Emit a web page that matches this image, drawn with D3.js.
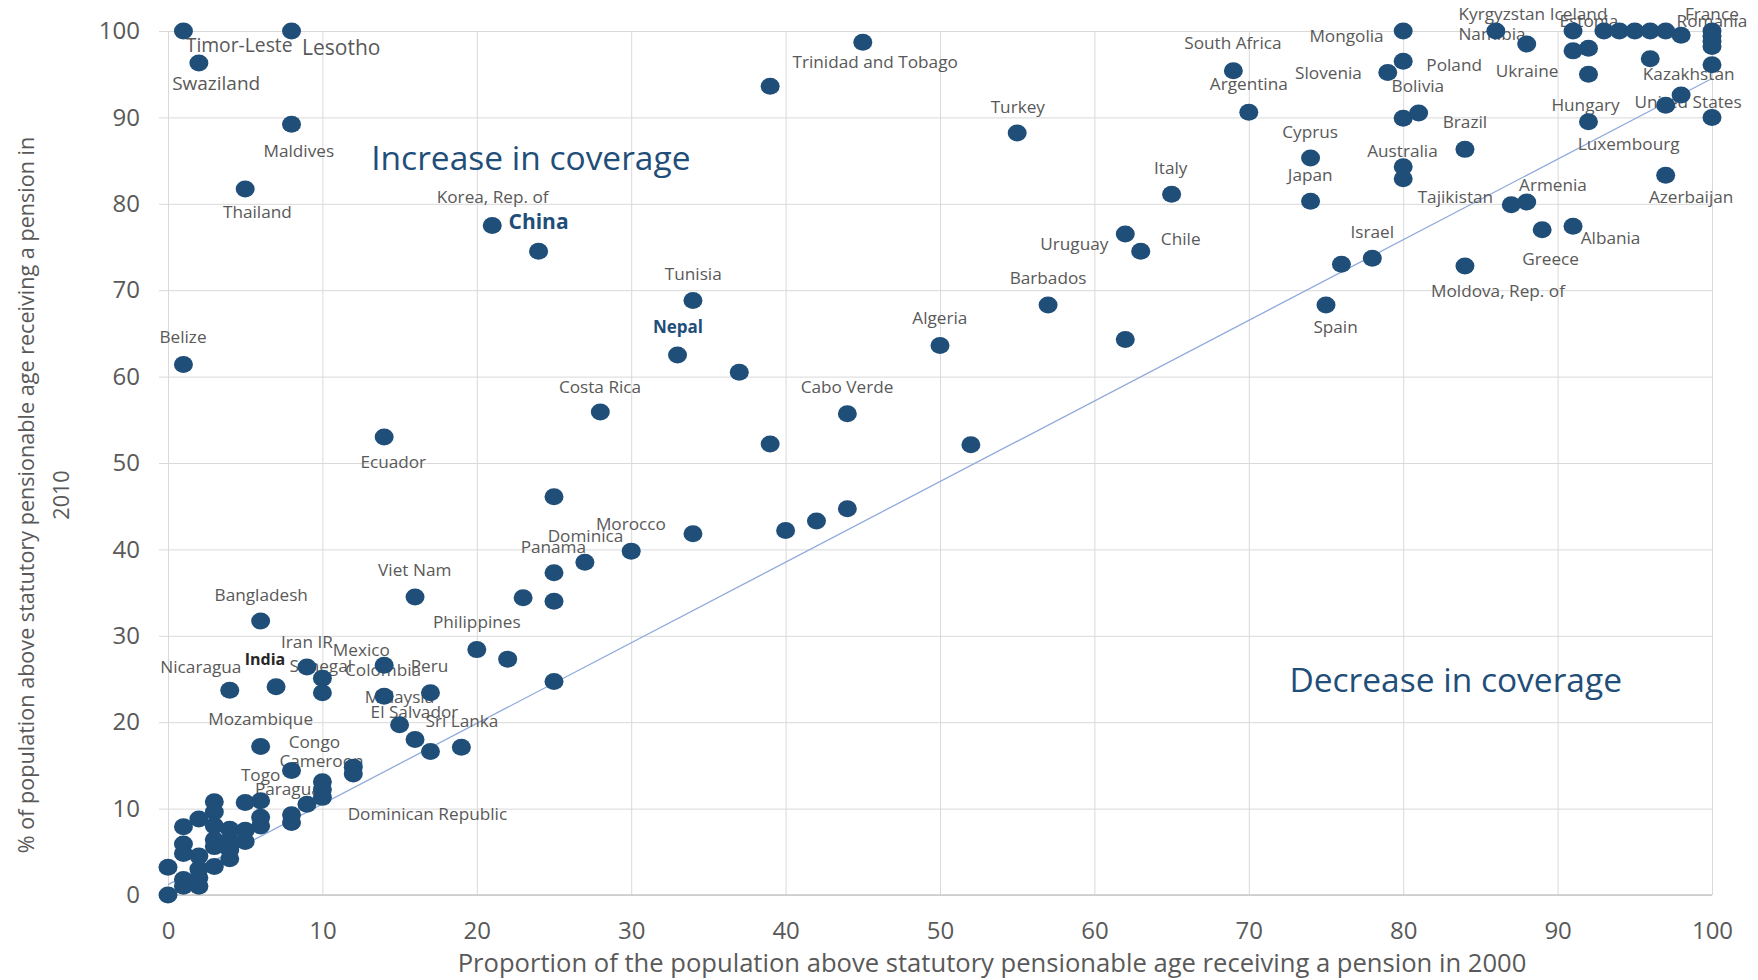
<!DOCTYPE html>
<html>
<head>
<meta charset="utf-8">
<script src="https://cdn.jsdelivr.net/npm/d3@7"></script>
<style>
html,body{margin:0;padding:0;background:#fff;}
svg{display:block;font-family:"Open Sans","Noto Sans",sans-serif;}
</style>
</head>
<body>
<svg id="chart" width="1758" height="980"></svg>
<script>
// ---------- DATA ----------
const coverage2000 = [
  1, 8, 2, 8, 5, 1, 21, 24,
  45, 39, 55, 65, 62, 63, 57, 50, 62,
  34, 33, 37, 28, 44, 39, 52, 14,
  25, 34, 40, 42, 44, 30, 27, 25, 23, 25, 16,
  6, 20, 22, 25,
  9, 10, 10, 7, 4, 14, 14, 17,
  15, 16, 17, 19, 6,
  8, 12, 12, 10, 10, 10, 9, 8, 8,
  6, 6, 6, 5, 5, 5,
  3, 3, 2, 1, 3, 4,
  1, 1, 2, 3, 3, 4, 4, 4, 3, 2, 0, 2, 1, 1, 2, 0,
  69, 70, 80, 80, 79, 80, 81, 84, 74, 74, 80, 80,
  87, 88, 89, 91, 78, 76, 75, 84, 97, 92, 97, 98, 100, 100,
  86, 88, 92, 91, 91, 92, 93, 94, 95, 96, 97, 98, 96,
  100, 100, 100, 100
];
const coverage2010 = [
  100, 100, 96.3, 89.2, 81.7, 61.4, 77.5, 74.5,
  98.7, 93.6, 88.2, 81.1, 76.5, 74.5, 68.3, 63.6, 64.3,
  68.8, 62.5, 60.5, 55.9, 55.7, 52.2, 52.1, 53.0,
  46.1, 41.8, 42.2, 43.3, 44.7, 39.8, 38.5, 37.3, 34.4, 34.0, 34.5,
  31.7, 28.4, 27.3, 24.7,
  26.4, 25.1, 23.4, 24.1, 23.7, 26.6, 23.0, 23.4,
  19.7, 18.0, 16.6, 17.1, 17.2,
  14.4, 14.8, 14.0, 13.1, 12.2, 11.3, 10.5, 9.3, 8.4,
  10.9, 9.0, 8.0, 10.7, 7.5, 6.2,
  10.8, 9.6, 8.8, 7.9, 8.0, 7.6,
  5.9, 4.8, 4.5, 6.4, 5.6, 6.4, 5.2, 4.2, 3.3, 3.0, 3.2, 2.0, 1.8, 1.0, 1.0, 0,
  95.4, 90.6, 100, 96.5, 95.2, 89.9, 90.5, 86.3, 85.3, 80.3, 84.3, 82.9,
  79.9, 80.2, 77.0, 77.4, 73.7, 73.0, 68.3, 72.8, 83.3, 89.5, 91.4, 92.6, 90.0, 96.1,
  100, 98.5, 95.0, 100, 97.7, 98.0, 100, 100, 100, 100, 100, 99.5, 96.8,
  100, 99.4, 98.8, 98.2
];

// data labels: name and anchor (in data units)
const labelNames = [
  "Timor-Leste", "Lesotho", "Swaziland", "Maldives", "Thailand", "Belize",
  "Korea, Rep. of", "China", "Trinidad and Tobago", "Turkey", "Italy", "Uruguay",
  "Chile", "Barbados", "Algeria", "Tunisia", "Nepal", "Costa Rica", "Cabo Verde",
  "Ecuador", "Morocco", "Dominica", "Panama", "Viet Nam", "Bangladesh", "Philippines",
  "Iran IR", "Mexico", "India", "Nicaragua", "Senegal", "Colombia", "Peru",
  "Malaysia", "El Salvador", "Sri Lanka", "Mozambique", "Congo", "Cameroon", "Togo",
  "Paraguay", "Dominican Republic",
  "South Africa", "Argentina", "Mongolia", "Slovenia", "Poland", "Bolivia", "Brazil",
  "Cyprus", "Japan", "Australia", "Tajikistan", "Armenia", "Israel", "Greece",
  "Albania", "Moldova, Rep. of", "Spain", "Kyrgyzstan", "Iceland", "Estonia",
  "Namibia", "Ukraine", "France", "Romania", "Kazakhstan", "Hungary",
  "United States", "Luxembourg", "Azerbaijan"
];
const labelX = [
  4.61, 11.22, 3.12, 8.47, 5.79, 0.97,
  21.03, 24.0, 45.8, 55.04, 64.94, 58.7,
  65.59, 57.0, 49.99, 34.02, 33.03, 27.98, 43.98,
  14.59, 29.98, 27.04, 24.96, 15.98, 6.04, 20.0,
  9.0, 12.52, 6.28, 2.13, 9.9, 13.93, 16.94,
  14.99, 15.96, 19.04, 6.0, 9.48, 9.94, 6.0,
  8.04, 16.8,
  68.97, 70.0, 76.33, 75.16, 83.3, 80.95, 84.0,
  73.97, 73.98, 79.95, 83.38, 89.7, 78.0, 89.55,
  93.43, 86.14, 75.62, 86.39, 91.36, 92.03,
  85.75, 88.02, 99.99, 100.0, 98.49, 91.81,
  98.45, 94.6, 98.65
];
const labelY = [
  98.38, 98.11, 93.94, 86.15, 79.09, 64.55,
  80.75, 77.93, 96.37, 91.17, 84.18, 75.3,
  75.9, 71.45, 66.75, 71.88, 65.7, 58.83, 58.76,
  50.15, 42.9, 41.59, 40.3, 37.6, 34.72, 31.6,
  29.3, 28.4, 27.3, 26.35, 26.5, 26.04, 26.5,
  22.88, 21.14, 20.14, 20.33, 17.67, 15.5, 13.9,
  12.27, 9.34,
  98.6, 93.87, 99.4, 95.18, 96.06, 93.63, 89.5,
  88.35, 83.33, 86.15, 80.75, 82.18, 76.77, 73.6,
  76.0, 69.94, 65.78, 101.97, 101.97, 101.2,
  99.6, 95.4, 101.97, 101.2, 95.02, 91.44,
  91.74, 86.92, 80.75
];

const xTicks = [0, 10, 20, 30, 40, 50, 60, 70, 80, 90, 100];
const yTicks = [0, 10, 20, 30, 40, 50, 60, 70, 80, 90, 100];

const fitLineX = [0, 100];
const fitLineY = [1.2, 94.5];

const noteTexts = ["Increase in coverage", "Decrease in coverage"];
const noteX = [23.5, 83.4];
const noteY = [85.27, 24.8];

const xTitle = "Proportion of the population above statutory pensionable age receiving a pension in 2000";
const yTitleLines = ["% of population above statutory pensionable age receiving a pension in", "2010"];

// ---------- STYLE ----------
const DOT = "#1F4E79";
const GRID = "#D9D9D9";
const TXT = "#595959";
const labelStyle = {
  "China":       {size: 21, weight: 700, color: "#1F4E79"},
  "Nepal":       {size: 17, weight: 700, color: "#1F4E79"},
  "India":       {size: 16, weight: 700, color: "#262626"},
  "Lesotho":     {size: 21, weight: 400, color: TXT},
  "Timor-Leste": {size: 19.3, weight: 400, color: TXT},
  "Swaziland":   {size: 19, weight: 400, color: TXT}
};
const baseLabel = {size: 17.2, weight: 400, color: TXT};

// ---------- CHART ----------
const svg = d3.select("#chart");
const x = d3.scaleLinear().domain([0, 100]).range([168, 1712]);
const y = d3.scaleLinear().domain([0, 100]).range([895, 31]);

// vertical gridlines
svg.append("g")
  .attr("transform", `translate(0,${y(0)})`)
  .call(d3.axisBottom(x).tickValues(xTicks).tickSize(-(y(0) - y(100))).tickFormat(""))
  .call(g => g.select(".domain").remove())
  .call(g => g.selectAll("line").attr("stroke", GRID).attr("stroke-width", 1));

// horizontal gridlines (extend slightly left of the axis)
svg.append("g")
  .attr("transform", `translate(${x(0) - 9},0)`)
  .call(d3.axisLeft(y).tickValues(yTicks).tickSize(-(x(100) - x(0) + 9)).tickFormat(""))
  .call(g => g.select(".domain").remove())
  .call(g => g.selectAll("line").attr("stroke", GRID).attr("stroke-width", 1));

// bottom axis line
svg.append("line")
  .attr("x1", x(0) - 9).attr("x2", x(100))
  .attr("y1", y(0)).attr("y2", y(0))
  .attr("stroke", "#C8C8C8").attr("stroke-width", 1.6);

// tick labels
svg.append("g")
  .attr("transform", `translate(0,${y(0)})`)
  .call(d3.axisBottom(x).tickValues(xTicks).tickSize(0).tickPadding(27).tickFormat(d3.format("d")))
  .call(g => g.select(".domain").remove())
  .attr("font-family", null).attr("font-size", 24)
  .call(g => g.selectAll("text").attr("fill", TXT));

svg.append("g")
  .attr("transform", `translate(${x(0)},0)`)
  .call(d3.axisLeft(y).tickValues(yTicks).tickSize(0).tickPadding(28).tickFormat(d3.format("d")))
  .call(g => g.select(".domain").remove())
  .attr("font-family", null).attr("font-size", 24)
  .call(g => g.selectAll("text").attr("fill", TXT));

// fitted reference line
const fitPts = fitLineX.map((v, i) => [v, fitLineY[i]]);
svg.append("path")
  .datum(fitPts)
  .attr("d", d3.line().x(d => x(d[0])).y(d => y(d[1])))
  .attr("fill", "none")
  .attr("stroke", "#8FAADC")
  .attr("stroke-width", 1.3);

// region notes
const notes = noteTexts.map((t, i) => ({t, x: noteX[i], y: noteY[i]}));
svg.append("g").selectAll("text").data(notes).join("text")
  .attr("x", d => x(d.x)).attr("y", d => y(d.y))
  .attr("dy", "0.35em")
  .attr("text-anchor", "middle")
  .attr("font-size", 33.5)
  .attr("fill", "#1F4E79")
  .text(d => d.t);

// data labels
const labels = labelNames.map((n, i) => ({n, x: labelX[i], y: labelY[i]}));
svg.append("g").selectAll("text").data(labels).join("text")
  .attr("x", d => x(d.x)).attr("y", d => y(d.y))
  .attr("dy", "0.35em")
  .attr("text-anchor", "middle")
  .attr("font-size", d => (labelStyle[d.n] || baseLabel).size)
  .attr("font-weight", d => (labelStyle[d.n] || baseLabel).weight)
  .attr("fill", d => (labelStyle[d.n] || baseLabel).color)
  .text(d => d.n);

// points
const pts = coverage2000.map((v, i) => ({x: v, y: coverage2010[i]}));
svg.append("g").selectAll("ellipse").data(pts).join("ellipse")
  .attr("cx", d => x(d.x)).attr("cy", d => y(d.y))
  .attr("rx", 9.5).attr("ry", 8.5)
  .attr("fill", DOT);

// axis titles
svg.append("text")
  .attr("x", 992).attr("y", 972)
  .attr("text-anchor", "middle")
  .attr("font-size", 25.6)
  .attr("fill", TXT)
  .text(xTitle);

const yBase = [34, 69];
svg.append("g").selectAll("text").data(yTitleLines).join("text")
  .attr("transform", (d, i) => `translate(${yBase[i]},495) rotate(-90)`)
  .attr("text-anchor", "middle")
  .attr("font-size", 21.6)
  .attr("fill", TXT)
  .text(d => d);
</script>
</body>
</html>
